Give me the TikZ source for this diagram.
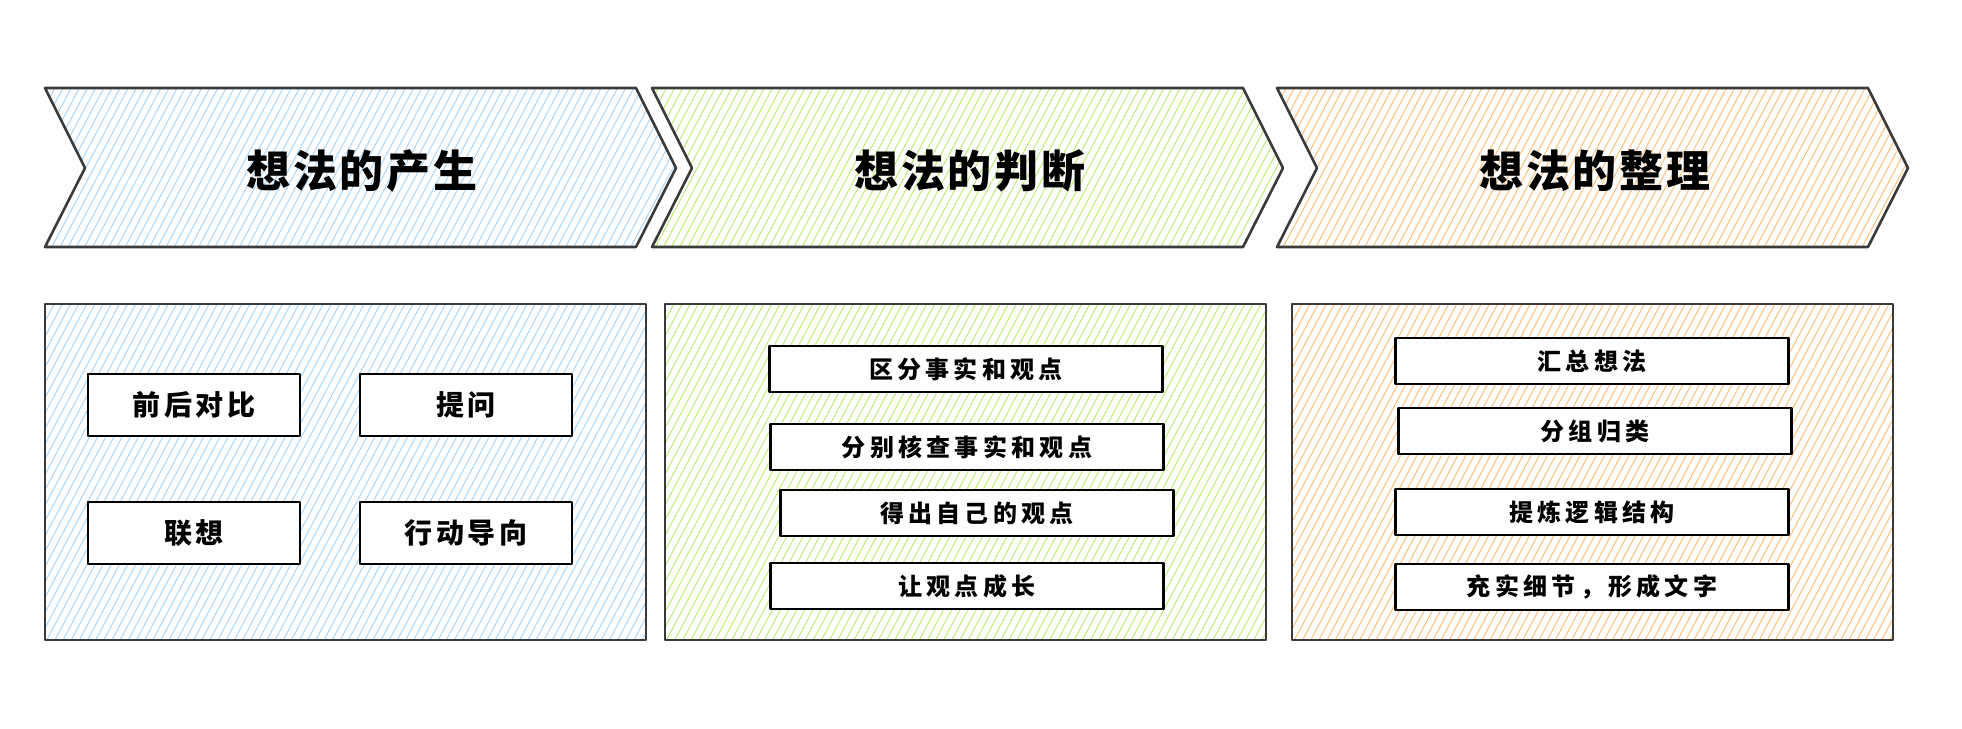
\documentclass[tikz,border=0pt]{standalone}
\usepackage{fontspec}
\newfontfamily\cjk{Noto Sans CJK SC}
\usetikzlibrary{patterns.meta}
\definecolor{hblue}{HTML}{A5D8FF}
\definecolor{hgreen}{HTML}{C0EB75}
\definecolor{horange}{HTML}{FFC078}
\definecolor{ink}{HTML}{3A3A3A}
\tikzset{
  hatch/.style={pattern={Lines[angle=62,distance=3.6pt,line width=0.5pt]}, pattern color=#1},
  outline/.style={draw=ink, line width=1.3pt, line join=round},
  titletext/.style={inner sep=0pt, font=\cjk\bfseries\fontsize{22}{24}\selectfont\addfontfeature{LetterSpace=6}},
  itembox/.style={draw=black, fill=white, line width=1.4pt, line join=round, inner sep=0pt,
    minimum width=196.5pt, minimum height=23pt,
    font=\cjk\bfseries\fontsize{12}{14}\selectfont\addfontfeature{LetterSpace=18}},
  bigitem/.style={itembox, minimum width=106pt, minimum height=31pt,
    font=\cjk\bfseries\fontsize{14}{16}\selectfont\addfontfeature{LetterSpace=12}},
}
\begin{document}
\begin{tikzpicture}[x=0.5pt,y=-0.5pt]
\useasboundingbox[fill=white] (0,0) rectangle (1962,728);
% chevrons
\path[outline, hatch=hblue] (45,88) -- (636,88) -- (676,168) -- (636,247) -- (45,247) -- (85,168) -- cycle;
\path[outline, hatch=hgreen] (652,88) -- (1243,88) -- (1283,168) -- (1243,247) -- (652,247) -- (692,168) -- cycle;
\path[outline, hatch=horange] (1277,88) -- (1868,88) -- (1908,168) -- (1868,247) -- (1277,247) -- (1317,168) -- cycle;
\node[titletext] (t1) at (362,171) {想法的产生};
\node[titletext] (t2) at (970,171) {想法的判断};
\node[titletext] (t3) at (1595,171) {想法的整理};
% containers
\path[outline, hatch=hblue] (45,304) rectangle (646,640);
\path[outline, hatch=hgreen] (665,304) rectangle (1266,640);
\path[outline, hatch=horange] (1292,304) rectangle (1893,640);
% box 1 items
\node[bigitem] (a1) at (194,405) {前后对比};
\node[bigitem] (a2) at (466,405) {提问};
\node[bigitem] (a3) at (194,533) {联想};
\node[bigitem] (a4) at (466,533) {行动导向};
% box 2 items
\node[itembox] (b1) at (966,369) {区分事实和观点};
\node[itembox] (b2) at (967,447) {分别核查事实和观点};
\node[itembox] (b3) at (977,513) {得出自己的观点};
\node[itembox] (b4) at (967,586) {让观点成长};
% box 3 items
\node[itembox] (c1) at (1592,361) {汇总想法};
\node[itembox] (c2) at (1595,431) {分组归类};
\node[itembox] (c3) at (1592,512) {提炼逻辑结构};
\node[itembox] (c4) at (1592,587) {充实细节，形成文字};
\end{tikzpicture}
\end{document}
